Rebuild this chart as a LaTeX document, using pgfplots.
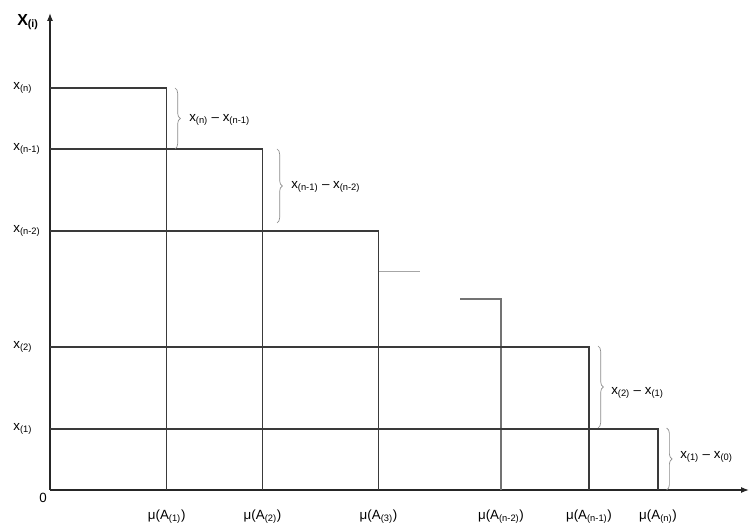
\documentclass[border=0pt]{standalone}
\usepackage{fontspec}
\setmainfont{Liberation Sans}
\usepackage{pgfplots}
\pgfplotsset{compat=1.18}
\usetikzlibrary{arrows.meta,decorations.pathreplacing}
\definecolor{ln}{HTML}{3A3A3A}
\definecolor{br}{HTML}{8A8A8A}
\begin{document}
\begin{tikzpicture}
\begin{axis}[
  x=0.75pt, y=0.75pt,
  xmin=0, xmax=699, ymin=0, ymax=477,
  axis lines=left,
  axis line style={line width=0.9pt, draw=black!85, -{Latex[length=6pt,width=4.5pt]}},
  xtick={116.7,212.5,328.5,451,539,608},
  xticklabels={μ(A\textsubscript{(1)}), μ(A\textsubscript{(2)}), μ(A\textsubscript{(3)}), μ(A\textsubscript{(n-2)}), μ(A\textsubscript{(n-1)}), μ(A\textsubscript{(n)})},
  ytick={61,143,259,341,402},
  yticklabels={x\textsubscript{(1)}, x\textsubscript{(2)}, x\textsubscript{(n-2)}, x\textsubscript{(n-1)}, x\textsubscript{(n)}},
  major tick length=0pt,
  tick style={draw=none},
  xticklabel style={yshift=-11pt, font=\fontsize{10}{12}\selectfont},
  yticklabel style={anchor=west, xshift=-31pt, font=\fontsize{10}{12}\selectfont},
  clip=false,
]
\path (axis cs:-50,-40) rectangle (axis cs:700,490);
\addplot[ln, line width=0.8pt] coordinates {(0,402) (116.7,402) (116.7,0)};
\addplot[ln, line width=0.8pt] coordinates {(0,341) (212.5,341) (212.5,0)};
\addplot[ln, line width=0.8pt] coordinates {(0,259) (328.5,259) (328.5,0)};
\addplot[black!35, line width=0.9pt] coordinates {(328.5,218.5) (369.5,218.5)};
\addplot[black!55, line width=0.9pt] coordinates {(410,191) (451,191) (451,0)};
\addplot[ln, line width=0.8pt] coordinates {(0,143) (539,143) (539,0)};
\addplot[ln, line width=0.8pt] coordinates {(0,61) (608,61) (608,0)};

\draw[br, line width=0.5pt, decorate, decoration={brace, amplitude=4pt}] (axis cs:125,402) -- (axis cs:125,341);
\draw[br, line width=0.5pt, decorate, decoration={brace, amplitude=4pt}] (axis cs:227,341) -- (axis cs:227,267);
\draw[br, line width=0.5pt, decorate, decoration={brace, amplitude=4pt}] (axis cs:548,144) -- (axis cs:548,62);
\draw[br, line width=0.5pt, decorate, decoration={brace, amplitude=4pt}] (axis cs:616.7,62) -- (axis cs:616.7,0);

\node[anchor=west, inner sep=0pt, font=\fontsize{10}{12}\selectfont] at (axis cs:139,370) {x\textsubscript{(n)} – x\textsubscript{(n-1)}};
\node[anchor=west, inner sep=0pt, font=\fontsize{10}{12}\selectfont] at (axis cs:241,303) {x\textsubscript{(n-1)} – x\textsubscript{(n-2)}};
\node[anchor=west, inner sep=0pt, font=\fontsize{10}{12}\selectfont] at (axis cs:561,97) {x\textsubscript{(2)} – x\textsubscript{(1)}};
\node[anchor=west, inner sep=0pt, font=\fontsize{10}{12}\selectfont] at (axis cs:630,33) {x\textsubscript{(1)} – x\textsubscript{(0)}};

\node[anchor=west, inner sep=0pt, font=\bfseries\fontsize{12}{14}\selectfont] at (axis cs:-33,468) {X\textsubscript{(i)}};
\node[inner sep=0pt, font=\fontsize{10}{12}\selectfont] at (axis cs:-7,-8) {0};
\end{axis}
\end{tikzpicture}
\end{document}
